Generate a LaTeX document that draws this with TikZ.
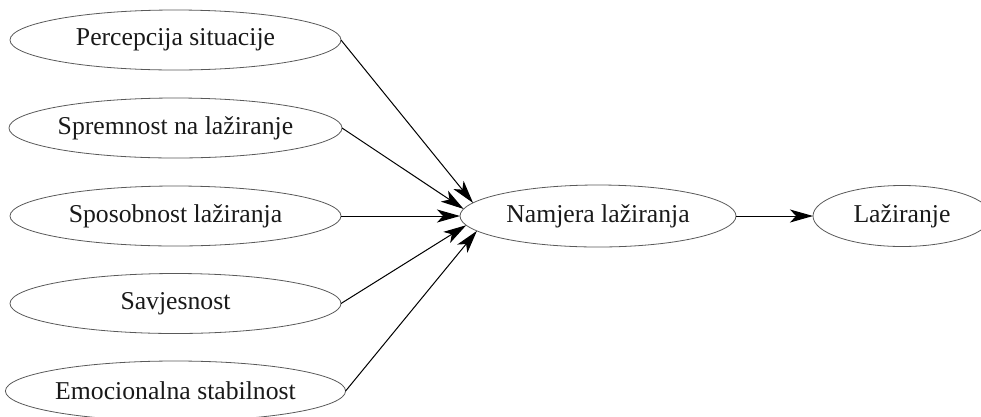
\documentclass[tikz,border=0pt]{standalone}
\usepackage{fontspec}
\setmainfont{Liberation Serif}
\usetikzlibrary{shapes.geometric,arrows.meta}
\tikzset{
  ell/.style={ellipse, draw=black!65, line width=0.8pt, inner sep=0pt, outer sep=0pt,
    font=\fontsize{25.7}{30}\selectfont, text=black!90},
  leftell/.style={ell, minimum width=331pt, minimum height=60pt},
  conn/.style={draw=black, line width=1pt, -{Stealth[length=23pt,width=13pt,inset=6pt]}}
}
\begin{document}
\begin{tikzpicture}[x=1pt,y=-1pt]
\useasboundingbox (0,0) rectangle (981,416);
\node[leftell] (p1) at (175.5,40) {Percepcija situacije};
\node[leftell] (p2) at (175.5,128) {Spremnost na lažiranje};
\node[leftell] (p3) at (175.5,216) {Sposobnost lažiranja};
\node[leftell] (p4) at (175.5,303.5) {Savjesnost};
\node[leftell] (p5) at (175.5,391) {Emocionalna stabilnost};
\node[ell, minimum width=276pt, minimum height=62pt] (m) at (598,216) {Namjera lažiranja};
\node[ell, minimum width=178pt, minimum height=61pt] (r) at (902,216) {Lažiranje};
\draw[conn] (p1.east) -- (m.174.6);
\draw[conn] (p2.east) -- (m.177.5);
\draw[conn] (p3.east) -- (m.180);
\draw[conn] (p4.east) -- (m.184.6);
\draw[conn] (p5.east) -- (m.187.5);
\draw[conn] (m.east) -- (r.west);
\end{tikzpicture}
\end{document}
